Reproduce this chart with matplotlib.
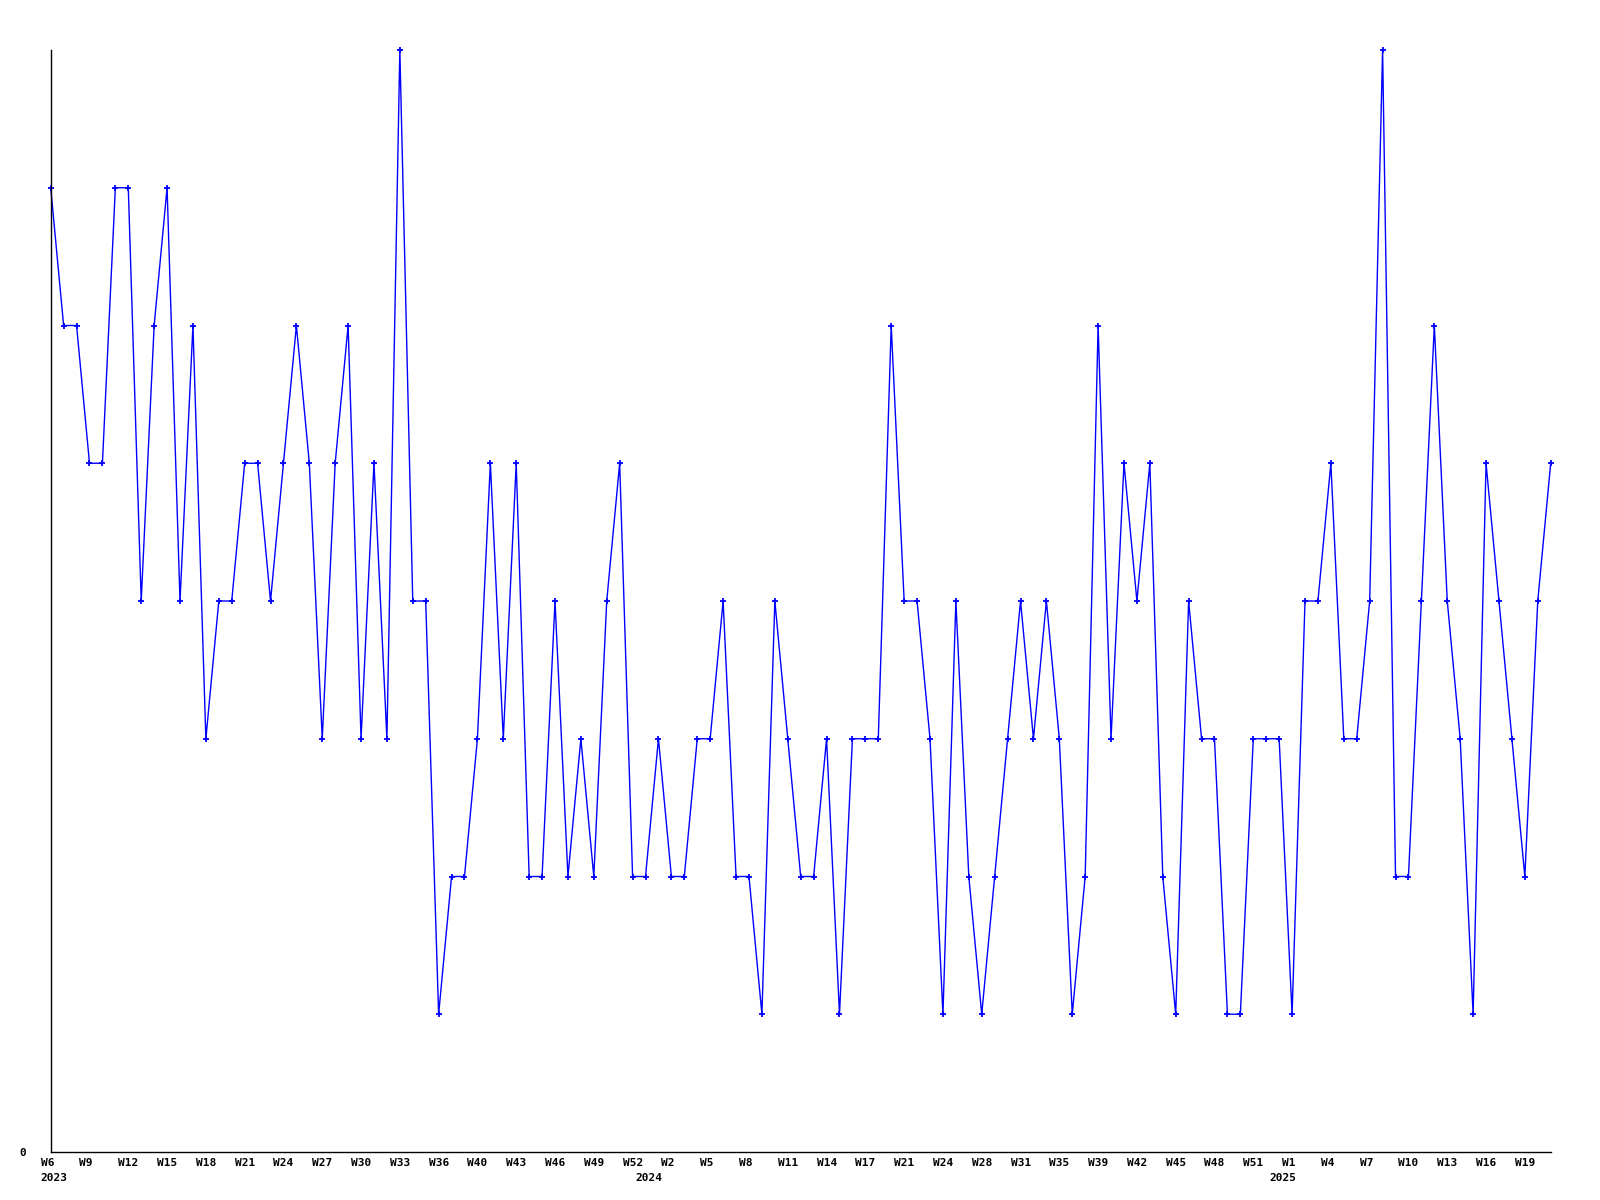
import numpy as np
import matplotlib.pyplot as plt
import matplotlib.transforms as mtransforms

# valores semanais (W6 2023 ... W21 2025)
valores = [7, 6, 6, 5, 5, 7, 7, 4, 6, 7,
           4, 6, 3, 4, 4, 5, 5, 4, 5, 6,
           5, 3, 5, 6, 3, 5, 3, 8, 4, 4,
           1, 2, 2, 3, 5, 3, 5, 2, 2, 4,
           2, 3, 2, 4, 5, 2, 2, 3, 2, 2,
           3, 3, 4, 2, 2, 1, 4, 3, 2, 2,
           3, 1, 3, 3, 3, 6, 4, 4, 3, 1,
           4, 2, 1, 2, 3, 4, 3, 4, 3, 1,
           2, 6, 3, 5, 4, 5, 2, 1, 4, 3,
           3, 1, 1, 3, 3, 3, 1, 4, 4, 5,
           3, 3, 4, 8, 2, 2, 4, 6, 4, 3,
           1, 5, 4, 3, 2, 4, 5]

semanas = ['W6', 'W9', 'W12', 'W15', 'W18', 'W21', 'W24', 'W27', 'W30', 'W33',
           'W36', 'W40', 'W43', 'W46', 'W49', 'W52', 'W2', 'W5', 'W8', 'W11',
           'W14', 'W17', 'W21', 'W24', 'W28', 'W31', 'W35', 'W39', 'W42', 'W45',
           'W48', 'W51', 'W1', 'W4', 'W7', 'W10', 'W13', 'W16', 'W19']
anos = ['2023', '2024', '2025']
anos_pos = [0, 46, 95]

x = np.arange(len(valores))

fig = plt.figure(figsize=(16, 12), dpi=100)
ax = fig.add_axes([50.7 / 1600, 1 - 1152 / 1200, 1500 / 1600, 1102 / 1200])

ax.plot(x, valores, color='#0000ff', linewidth=1, marker='+', markersize=5,
        markeredgewidth=1.3, clip_on=False)

ax.set_xlim(0, len(valores) - 1)
ax.set_ylim(0, 8)

for lado in ['top', 'right']:
    ax.spines[lado].set_visible(False)
for lado in ['left', 'bottom']:
    ax.spines[lado].set_linewidth(1)
    ax.spines[lado].set_color('black')

fonte = dict(family='DejaVu Sans Mono', weight='bold', size=8)

# rotulos do eixo x desenhados como texto (alinhados a esquerda)
ax.set_xticks([])
trans = mtransforms.blended_transform_factory(ax.transData, ax.transAxes)
desloc_sem = mtransforms.ScaledTranslation(-10 / 100, -11 / 100, fig.dpi_scale_trans)
for pos, sem in zip(x[::3], semanas):
    ax.text(pos, 0, sem, transform=trans + desloc_sem, ha='left', va='center', **fonte)

desloc_ano = mtransforms.ScaledTranslation(-10 / 100, -26 / 100, fig.dpi_scale_trans)
for pos, ano in zip(anos_pos, anos):
    ax.text(pos, 0, ano, transform=trans + desloc_ano, ha='left', va='center', **fonte)

ax.set_yticks([0])
ax.set_yticklabels(['0'], **fonte)
ax.tick_params(axis='y', length=0, pad=18)

plt.savefig('out.png', dpi=100)
